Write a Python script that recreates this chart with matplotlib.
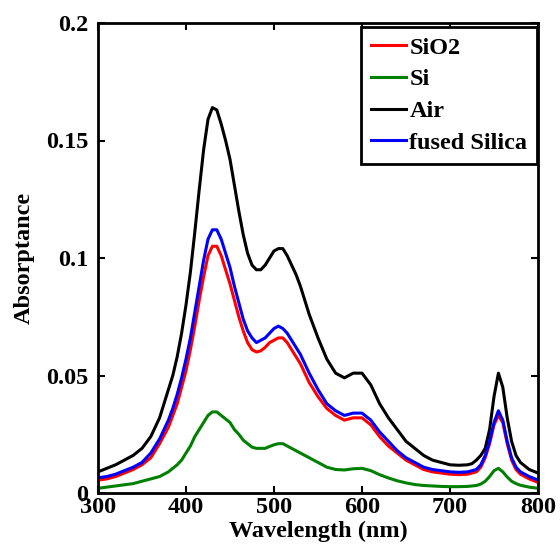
import matplotlib
matplotlib.use("Agg")
import matplotlib.pyplot as plt

# Wavelength grid (nm) and absorptance
wavelength = [300, 310, 320, 330, 340, 350, 360, 370,
              380, 385, 390, 395, 400, 405, 410, 415, 420, 425, 430, 435, 440,
              445, 450, 455, 460, 465, 470, 475, 480, 485, 490, 495, 500, 505,
              510, 515, 520, 525, 530, 535, 540,
              550, 560, 570, 580, 590, 600, 610, 620, 630, 640, 650, 660, 670,
              680, 690, 700, 710, 720,
              725, 730, 735, 740, 745, 750, 755, 760, 765, 770, 775, 780,
              790, 800]

sio2 = [0.0055, 0.006, 0.007, 0.0085, 0.010, 0.012, 0.015, 0.021,
        0.028, 0.033, 0.038, 0.045, 0.052, 0.061, 0.071, 0.082, 0.092, 0.101,
        0.105, 0.105, 0.101, 0.095, 0.089, 0.082, 0.075, 0.069, 0.064, 0.061,
        0.060, 0.0605, 0.062, 0.064, 0.065, 0.066, 0.066, 0.064, 0.061, 0.058,
        0.055, 0.051, 0.047,
        0.041, 0.036, 0.033, 0.031, 0.032, 0.032, 0.029, 0.024, 0.020, 0.017,
        0.014, 0.012, 0.010, 0.009, 0.0085, 0.008, 0.0078, 0.008,
        0.0085, 0.009, 0.011, 0.015, 0.021, 0.029, 0.033, 0.030, 0.021, 0.014,
        0.010, 0.008,
        0.006, 0.0045]

si = [0.002, 0.0025, 0.003, 0.0035, 0.004, 0.005, 0.006, 0.007,
      0.009, 0.0105, 0.012, 0.014, 0.017, 0.020, 0.024, 0.027, 0.030, 0.033,
      0.0345, 0.0345, 0.033, 0.0315, 0.030, 0.027, 0.025, 0.0225, 0.021,
      0.0195, 0.019, 0.019, 0.019, 0.0198, 0.0205, 0.021, 0.021, 0.020, 0.019,
      0.018, 0.017, 0.016, 0.015,
      0.013, 0.011, 0.010, 0.0098, 0.0103, 0.0105, 0.0095, 0.0078, 0.0064,
      0.0052, 0.0043, 0.0036, 0.0032, 0.003, 0.0028, 0.0027, 0.0027, 0.0028,
      0.003, 0.0032, 0.0038, 0.005, 0.007, 0.0095, 0.0105, 0.009, 0.0068,
      0.005, 0.004, 0.0033,
      0.0025, 0.002]

air = [0.009, 0.0105, 0.012, 0.014, 0.016, 0.019, 0.024, 0.032,
       0.044, 0.050, 0.058, 0.068, 0.080, 0.094, 0.111, 0.129, 0.146, 0.159,
       0.164, 0.163, 0.157, 0.150, 0.142, 0.131, 0.120, 0.110, 0.102, 0.097,
       0.095, 0.095, 0.097, 0.100, 0.103, 0.104, 0.104, 0.101, 0.097, 0.093,
       0.088, 0.082, 0.076,
       0.066, 0.057, 0.051, 0.049, 0.051, 0.051, 0.046, 0.038, 0.032, 0.027,
       0.022, 0.019, 0.016, 0.014, 0.013, 0.012, 0.0118, 0.012,
       0.0125, 0.014, 0.016, 0.019, 0.027, 0.041, 0.051, 0.045, 0.032, 0.022,
       0.016, 0.013,
       0.010, 0.0085]

fused_silica = [0.0065, 0.007, 0.008, 0.0095, 0.011, 0.013, 0.017, 0.023,
                0.031, 0.036, 0.042, 0.049, 0.057, 0.066, 0.077, 0.088, 0.099,
                0.108, 0.112, 0.112, 0.108, 0.102, 0.096, 0.088, 0.081, 0.074,
                0.069, 0.066, 0.064, 0.065, 0.066, 0.068, 0.070, 0.071, 0.070,
                0.068, 0.065, 0.062, 0.059, 0.055, 0.051,
                0.044, 0.038, 0.035, 0.033, 0.034, 0.034, 0.031, 0.026, 0.022,
                0.018, 0.015, 0.013, 0.011, 0.010, 0.0095, 0.009, 0.0088, 0.009,
                0.0095, 0.010, 0.012, 0.016, 0.022, 0.030, 0.035, 0.031, 0.022,
                0.015, 0.011, 0.009,
                0.007, 0.0055]

xticks = [300, 400, 500, 600, 700, 800]
yticks = [0, 0.05, 0.1, 0.15, 0.2]
ytick_labels = ["0", "0.05", "0.1", "0.15", "0.2"]

plt.rcParams["font.family"] = ["Liberation Serif", "DejaVu Serif"]
plt.rcParams["font.weight"] = "bold"
plt.rcParams["font.size"] = 17.5

fig = plt.figure(figsize=(5.6, 5.49), dpi=100)
ax = fig.add_axes([98 / 560, 1 - 493 / 549, 440 / 560, 470 / 549])

line_kw = dict(lw=2.2, solid_joinstyle="round")
ax.plot(wavelength, sio2, color="red", label="SiO2", **line_kw)
ax.plot(wavelength, si, color="#008000", label="Si", **line_kw)
ax.plot(wavelength, air, color="black", label="Air", **line_kw)
ax.plot(wavelength, fused_silica, color="blue", label="fused Silica", **line_kw)

ax.set_xlim(300, 800)
ax.set_ylim(0, 0.2)
ax.set_xticks(xticks)
ax.set_yticks(yticks)
ax.set_yticklabels(ytick_labels)
ax.tick_params(direction="in", top=True, right=True, length=5, width=1.5)
ax.tick_params(axis="x", pad=3)
ax.tick_params(axis="y", pad=7)
for spine in ax.spines.values():
    spine.set_linewidth(2)

ax.set_xlabel("Wavelength (nm)", fontweight="bold", labelpad=2)
ax.set_ylabel("Absorptance", fontweight="bold", labelpad=8)

leg = ax.legend(loc="upper right", bbox_to_anchor=(0.9977, 0.9915),
                borderaxespad=0, fancybox=False, handlelength=1.45,
                handletextpad=0.12, labelspacing=0.4, borderpad=0.4,
                prop={"weight": "bold", "size": 17.5})
leg.get_frame().set_edgecolor("black")
leg.get_frame().set_linewidth(2)
leg.get_frame().set_alpha(1)

fig.savefig("out.png", dpi=100)
